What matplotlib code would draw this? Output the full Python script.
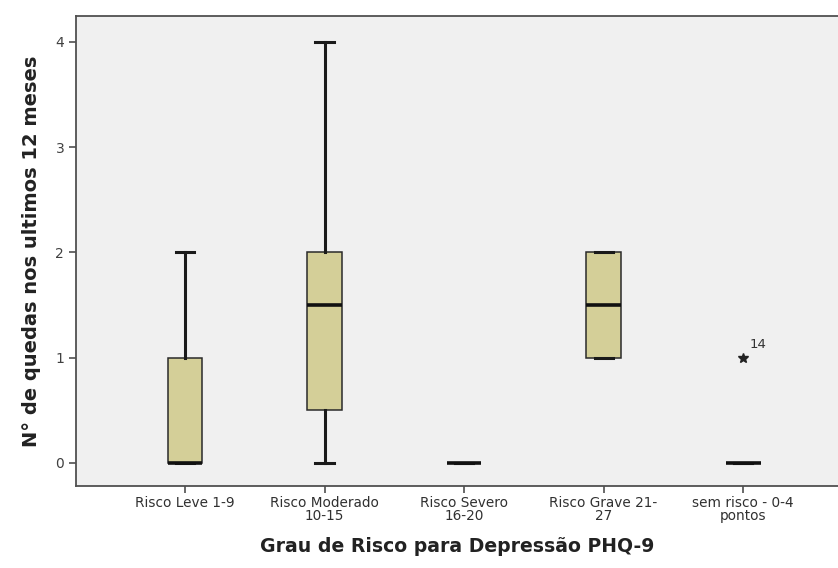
import matplotlib
matplotlib.use("Agg")
import matplotlib.pyplot as plt

# grupos de risco PHQ-9 e estatisticas do boxplot
categorias = [
    "Risco Leve 1-9",
    "Risco Moderado\n10-15",
    "Risco Severo\n16-20",
    "Risco Grave 21-\n27",
    "sem risco - 0-4\npontos",
]
whis_baixo = [0, 0, 0, 1, 0]
q1 = [0, 0.5, 0, 1, 0]
mediana = [0, 1.5, 0, 1.5, 0]
q3 = [1, 2, 0, 2, 0]
whis_alto = [2, 4, 0, 2, 0]
extremos = [[], [], [], [], [1]]
rotulos_extremos = [[], [], [], [], ["14"]]

plt.rcParams["font.family"] = ["DejaVu Sans"]

fig = plt.figure(figsize=(8.38, 5.68), dpi=100)
ax = fig.add_axes([0.0907, 0.1444, 0.9093, 0.8275])
ax.set_facecolor("#f0f0f0")

stats = []
for i in range(len(categorias)):
    stats.append({
        "whislo": whis_baixo[i], "q1": q1[i], "med": mediana[i],
        "q3": q3[i], "whishi": whis_alto[i], "fliers": [],
    })

pos = list(range(1, len(categorias) + 1))
ax.bxp(stats, positions=pos, widths=0.25, patch_artist=True,
       showfliers=False, capwidths=0.13,
       boxprops=dict(facecolor="#d4cf98", edgecolor="#2a2a2a", linewidth=1.1),
       whiskerprops=dict(color="#1a1a1a", linewidth=2.2),
       capprops=dict(color="#1a1a1a", linewidth=2.2),
       medianprops=dict(color="#111111", linewidth=2.6, solid_capstyle="butt"))

# valores extremos (asterisco) com numero do caso
for p, ys, labs in zip(pos, extremos, rotulos_extremos):
    for y, lab in zip(ys, labs):
        ax.plot(p, y, marker="*", color="#222222", markersize=7, linestyle="none")
        ax.annotate(lab, (p, y), xytext=(5, 5), textcoords="offset points",
                    fontsize=9.5, color="#333333", ha="left", va="bottom")

ax.set_xlim(0.219, 5.68)
ax.set_ylim(-0.219, 4.247)
ax.set_yticks([0, 1, 2, 3, 4])
ax.set_xticks(pos)
ax.set_xticklabels(categorias, fontsize=9.8, color="#303030", linespacing=0.95)
ax.tick_params(axis="y", labelsize=10, labelcolor="#404040", length=5,
               width=1.1, color="#404040")
ax.tick_params(axis="x", length=5, width=1.1, color="#404040", pad=2)

for s in ["left", "bottom", "top"]:
    ax.spines[s].set_color("#505050")
    ax.spines[s].set_linewidth(1.3)
ax.spines["right"].set_visible(False)

ax.set_xlabel("Grau de Risco para Depressão PHQ-9", fontsize=13.6,
              fontweight="bold", color="#222222", labelpad=10)
ax.set_ylabel("N° de quedas nos ultimos 12 meses", fontsize=14,
              fontweight="bold", color="#222222", labelpad=10)

fig.savefig("out.png", dpi=100, facecolor="white")
